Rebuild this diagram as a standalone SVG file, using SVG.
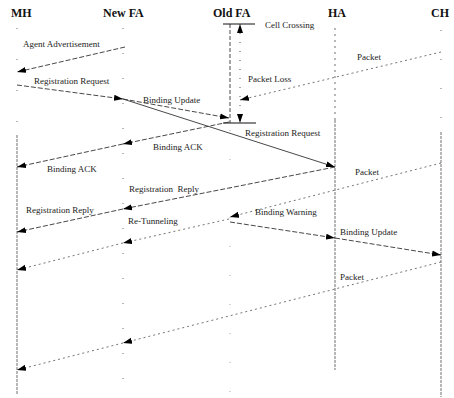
<svg xmlns="http://www.w3.org/2000/svg" width="454" height="398" viewBox="0 0 454 398">
<style>
.hdr{font-family:"Liberation Serif","Times New Roman",serif;font-weight:bold;font-size:12px;fill:#111}
.lbl{font-family:"Liberation Serif","Times New Roman",serif;font-size:9px;fill:#222;white-space:pre}
.life{stroke:#888;stroke-width:1.2;fill:none}
.msg{stroke:#333;stroke-width:0.9;fill:none;stroke-dasharray:5,2}
.solid{stroke:#333;stroke-width:0.9;fill:none}
.pkt{stroke:#666;stroke-width:0.9;fill:none;stroke-dasharray:2,3}
.arr{marker-end:url(#ah)}
</style>
<defs>
<marker id="ah" markerUnits="userSpaceOnUse" markerWidth="9" markerHeight="7" refX="9" refY="3.5" orient="auto-start-reverse">
<path d="M0,0.5 L9,3.5 L0,6.5 z" fill="#000"/>
</marker>
</defs>
<rect width="454" height="398" fill="#fff"/>
<g id="node-MH"><text class="hdr" x="11" y="17">MH</text>
<line class="life" x1="17" y1="28" x2="17" y2="130" stroke-dasharray="1,30" stroke="#bbb"/>
<line class="life" x1="17" y1="135" x2="17" y2="395" stroke-dasharray="3,1"/></g>
<g id="node-NewFA"><text class="hdr" x="103" y="17">New FA</text>
<line class="life" x1="123" y1="28" x2="123" y2="395" stroke-dasharray="1,24" stroke="#aaa"/></g>
<g id="node-OldFA"><text class="hdr" x="213" y="17">Old FA</text>
<line x1="230" y1="24" x2="230" y2="123" stroke="#333" stroke-width="0.9" stroke-dasharray="4,2"/>
<line x1="230" y1="130" x2="230" y2="395" stroke="#aaa" stroke-width="1" stroke-dasharray="1,28"/>
<line x1="223" y1="24" x2="255" y2="24" stroke="#111" stroke-width="1"/>
<line x1="223" y1="123" x2="256" y2="123" stroke="#111" stroke-width="1"/></g>
<g id="node-HA"><text class="hdr" x="328" y="17">HA</text>
<line class="life" x1="335" y1="28" x2="335" y2="120" stroke-dasharray="2,4" stroke="#777"/>
<line class="life" x1="335" y1="120" x2="335" y2="370" stroke-dasharray="3,1"/></g>
<g id="node-CH"><text class="hdr" x="431" y="17">CH</text>
<line class="life" x1="441" y1="30" x2="441" y2="130" stroke-dasharray="1,28" stroke="#aaa"/>
<line class="life" x1="441" y1="132" x2="441" y2="397" stroke-dasharray="3,1"/></g>
<g id="connectors">
<line x1="240" y1="24" x2="240" y2="123" stroke="#444" stroke-width="0.9" stroke-dasharray="1,8" marker-start="url(#ah)" marker-end="url(#ah)"/>
<line class="msg arr" x1="125" y1="47" x2="17" y2="72"/>
<line class="msg arr" x1="17" y1="85" x2="123" y2="99"/>
<line class="solid arr" x1="123" y1="99" x2="335" y2="167"/>
<line class="msg arr" x1="123" y1="99" x2="229" y2="118"/>
<line class="pkt arr" x1="441" y1="52" x2="240" y2="100"/>
<line class="msg arr" x1="229" y1="122" x2="123" y2="144"/>
<line class="msg arr" x1="123" y1="144" x2="17" y2="167"/>
<line class="pkt arr" x1="441" y1="163" x2="230" y2="217"/>
<line class="msg arr" x1="335" y1="167" x2="123" y2="209"/>
<line class="msg arr" x1="123" y1="209" x2="17" y2="232"/>
<line class="pkt arr" x1="229" y1="219" x2="123" y2="243"/>
<line class="pkt arr" x1="123" y1="243" x2="17" y2="270"/>
<line class="msg arr" x1="230" y1="222" x2="335" y2="238"/>
<line class="msg arr" x1="335" y1="238" x2="441" y2="255"/>
<line class="pkt arr" x1="441" y1="262" x2="123" y2="343"/>
<line class="pkt arr" x1="123" y1="343" x2="17" y2="370"/>
</g>
<g id="labels">
<text class="lbl" x="265" y="28">Cell Crossing</text>
<text class="lbl" x="23" y="47">Agent Advertisement</text>
<text class="lbl" x="357" y="60">Packet</text>
<text class="lbl" x="248" y="82">Packet Loss</text>
<text class="lbl" x="34" y="84">Registration Request</text>
<text class="lbl" x="143" y="103">Binding Update</text>
<text class="lbl" x="245" y="136">Registration Request</text>
<text class="lbl" x="153" y="150">Binding ACK</text>
<text class="lbl" x="47" y="172">Binding ACK</text>
<text class="lbl" x="355" y="175">Packet</text>
<text class="lbl" x="129" y="192" xml:space="preserve">Registration  Reply</text>
<text class="lbl" x="26" y="213">Registration Reply</text>
<text class="lbl" x="255" y="215">Binding Warning</text>
<text class="lbl" x="128" y="224">Re-Tunneling</text>
<text class="lbl" x="340" y="235">Binding Update</text>
<text class="lbl" x="340" y="280">Packet</text>
</g>
</svg>
